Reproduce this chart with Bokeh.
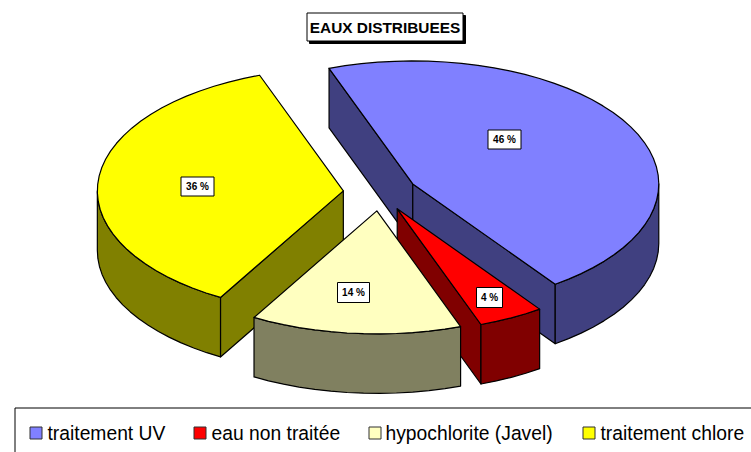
import numpy as np
from bokeh.plotting import figure
from bokeh.models import Range1d
from bokeh.core.properties import value
from bokeh.embed import file_html
from bokeh.resources import INLINE

# --- data
categories = ["traitement UV", "eau non traitée", "hypochlorite (Javel)", "traitement chlore"]
percent = [45.7, 4.3, 13.85, 36.15]
percent_labels = ["46 %", "4 %", "14 %", "36 %"]
title_text = "EAUX DISTRIBUEES"

# --- style
top_colors = ["#8080FF", "#FF0000", "#FFFFC0", "#FFFF00"]
side_colors = ["#404080", "#800000", "#808060", "#808000"]
FONT = value("Liberation Sans")

# --- pie geometry (screen pixels)
CX, CY = 379.6, 192.0
RX, RY = 246.0, 123.0
DEPTH = 59.5
EXPLODE = 0.15
START = -19.9
STEP = 4.0

# --- layout of the labels
label_centers = [(504, 139), (489, 297), (353, 292), (197, 186)]
label_sizes = [(33, 19), (26, 20), (32, 20), (33, 19)]
legend_swatch_x = [29, 193, 368, 582]
legend_text_x = [47, 211, 385, 600]

W, H = 751, 452
p = figure(width=W, height=H, x_range=Range1d(0, W), y_range=Range1d(H, 0),
           toolbar_location=None, output_backend="svg", min_border=0,
           outline_line_color=None, background_fill_color="white",
           border_fill_color="white")
p.axis.visible = False
p.grid.visible = False


def arc_angles(a, b):
    n = max(int(np.ceil((b - a) / STEP)), 1)
    return np.linspace(a, b, n + 1)


def poly(xs, ys, color):
    p.patch(list(xs), list(ys), fill_color=color, line_color="black", line_width=1.2,
            line_join="round")


total = sum(percent)
slices = []
a = START
for i, v in enumerate(percent):
    b = a + 360.0 * v / total
    mid = np.radians((a + b) / 2)
    ax = CX + EXPLODE * RX * np.sin(mid)
    ay = CY - EXPLODE * RY * np.cos(mid)
    slices.append((ay, i, a, b, ax))
    a = b

for ay, i, a, b, ax in sorted(slices):
    side = side_colors[i]
    for edge, visible in ((a, np.sin(np.radians(a)) < 0), (b, np.sin(np.radians(b)) > 0)):
        if visible:
            t = np.radians(edge)
            ex, ey = ax + RX * np.sin(t), ay - RY * np.cos(t)
            poly([ax, ex, ex, ax], [ay, ey, ey + DEPTH, ay + DEPTH], side)
    lo, hi = max(a, 90), min(b, 270)
    if lo < hi:
        t = np.radians(arc_angles(lo, hi))
        xs = ax + RX * np.sin(t)
        ys = ay - RY * np.cos(t)
        poly(np.r_[xs, xs[::-1]], np.r_[ys, ys[::-1] + DEPTH], side)
    t = np.radians(arc_angles(a, b))
    poly(np.r_[ax, ax + RX * np.sin(t)], np.r_[ay, ay - RY * np.cos(t)], top_colors[i])

# data labels
for (cx, cy), (w, h), txt in zip(label_centers, label_sizes, percent_labels):
    p.quad(left=cx - w / 2, right=cx + w / 2, top=cy - h / 2, bottom=cy + h / 2,
           fill_color="white", line_color="black", line_width=1)
    p.text([cx], [cy], text=[txt], text_font=FONT, text_font_size="10px",
           text_font_style="bold", text_align="center", text_baseline="middle",
           text_color="black")

# title box with shadow
p.quad(left=309, right=465, top=15, bottom=43, fill_color="black", line_color="black")
p.quad(left=306.5, right=462.5, top=12.5, bottom=40.5, fill_color="white",
       line_color="black", line_width=1)
p.text([384.5], [27], text=[title_text], text_font=FONT, text_font_size="15.4px",
       text_font_style="bold", text_align="center", text_baseline="middle",
       text_color="black")

# legend box, cut by the window at right and bottom
p.line([14.5, 14.5, W], [H, 407.5, 407.5], line_color="black", line_width=1)
for sx, tx, name, col in zip(legend_swatch_x, legend_text_x, categories, top_colors):
    p.quad(left=sx + 0.5, right=sx + 12.5, top=426.5, bottom=438.5, fill_color=col,
           line_color="#303030", line_width=1)
    p.text([tx], [433], text=[name], text_font=FONT, text_font_size="19.3px",
           text_align="left", text_baseline="alphabetic", text_color="black")

open("out.html", "w").write(file_html(p, INLINE))
